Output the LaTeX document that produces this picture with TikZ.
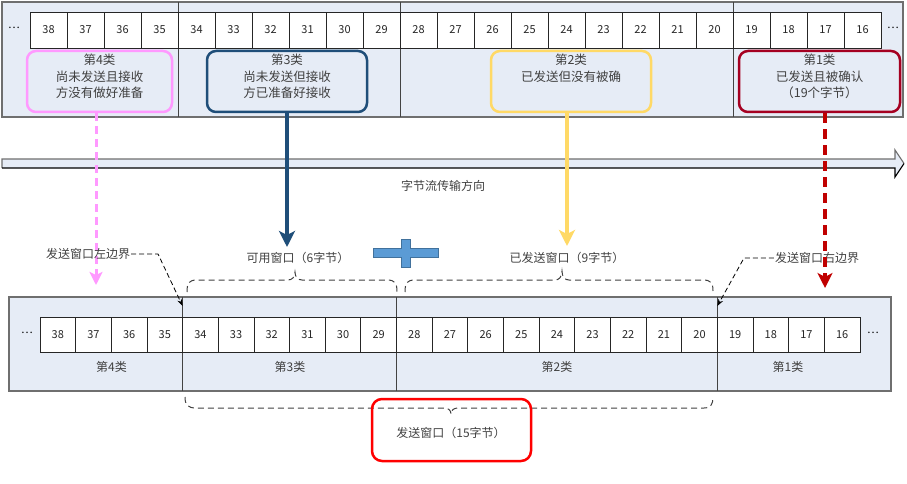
\documentclass[tikz,border=0pt]{standalone}
\usepackage{fontspec}
\setmainfont{Noto Sans CJK SC}
\usetikzlibrary{arrows.meta}
\definecolor{bandfill}{HTML}{E6ECF6}
\definecolor{bandline}{HTML}{6F6F6F}
\definecolor{txtgray}{HTML}{404040}
\definecolor{cpink}{HTML}{FF99FF}
\definecolor{cdblue}{HTML}{1F4E79}
\definecolor{cyellow}{HTML}{FFD966}
\definecolor{ccrimson}{HTML}{A50021}
\definecolor{cdred}{HTML}{C00000}
\definecolor{cred}{HTML}{FF0000}
\definecolor{plusfill}{HTML}{5B9BD5}
\definecolor{plusline}{HTML}{41719C}
\begin{document}
\begin{tikzpicture}[x=1pt,y=-1pt,
  band/.style={draw=bandline,fill=bandfill,line width=1.1pt},
  divider/.style={draw=bandline!60!black,line width=1pt},
  cellt/.style={draw=black!85,fill=white,line width=0.8pt,minimum width=37pt,minimum height=36pt,inner sep=0pt,font=\fontsize{11}{13}\selectfont,text=black!85},
  cellb/.style={draw=black!85,fill=white,line width=0.8pt,minimum width=35.65pt,minimum height=35pt,inner sep=0pt,font=\fontsize{11}{13}\selectfont,text=black!85},
  catbox/.style={rounded corners=9pt,line width=2.5pt,minimum height=61pt,inner sep=0pt},
  cattext/.style={anchor=north,align=center,font=\fontsize{12.5}{16.5}\selectfont,text=txtgray,inner sep=4pt},
  lbl/.style={font=\fontsize{12}{14}\selectfont,text=txtgray,inner sep=1pt},
  dots/.style={font=\fontsize{11}{13}\selectfont,text=black,inner sep=0pt},
  bnd/.style={draw=black,line width=0.8pt,dash pattern=on 5pt off 3pt,-{Stealth[length=7pt,width=5pt]}},
  brace/.style={draw=txtgray,line width=1pt,dash pattern=on 6pt off 4pt},
  bighead/.style={-{Stealth[length=16pt,width=16pt,inset=4pt]}},
]
\useasboundingbox (0,0) rectangle (907,484);

% ---------- top band ----------
\draw[band] (2,2) rectangle (903,117);
\foreach \xx in {178,400,733} \draw[divider] (\xx,2) -- (\xx,117);
\foreach \n [count=\i from 0] in {38,37,...,16} {
  \node[cellt] (t\n) at ({30+37*\i+18.5},30) {\n};
}
\node[dots] (tdl) at (14,28) {…};
\node[dots] (tdr) at (893,28) {…};

\node[catbox,draw=cpink,minimum width=145pt] (c4) at (99.5,81.5) {};
\node[cattext] (c4t) at (c4.north) {第4类\\尚未发送且接收\\方没有做好准备};
\node[catbox,draw=cdblue,minimum width=160pt] (c3) at (287,81.5) {};
\node[cattext] (c3t) at (c3.north) {第3类\\尚未发送但接收\\方已准备好接收};
\node[catbox,draw=cyellow,minimum width=160pt] (c2) at (571,81.5) {};
\node[cattext] (c2t) at (c2.north) {第2类\\已发送但没有被确};
\node[catbox,draw=ccrimson,minimum width=161pt] (c1) at (819.5,81.5) {};
\node[cattext] (c1t) at (c1.north) {第1类\\已发送且被确认\\（19个字节）};

% ---------- big direction arrow ----------
\fill[bandfill]
  (2,159) -- (895,159) -- (895,150) -- (904,163.5) -- (895,177) -- (895,168) -- (2,168) -- cycle;
\draw[draw=bandline,line width=1.1pt,line join=miter]
  (2,168) -- (2,159) -- (895,159) -- (895,150) -- (904,163.5);
\draw[draw=black,line width=1.1pt,line join=miter]
  (904,163.5) -- (895,177) -- (895,168) -- (2,168);
\node[lbl] (dir) at (443,186) {字节流传输方向};

% ---------- arrows from categories ----------
\coordinate (a4) at (96,285);
\coordinate (a3) at (287,247);
\coordinate (a2) at (567,246);
\coordinate (a1) at (825,288);
\draw[draw=cpink,line width=3pt,dash pattern=on 8pt off 5pt,-{Stealth[length=13pt,width=13pt,inset=3pt]}] (c4.south -| a4) -- (a4);
\draw[draw=cdblue,line width=3.5pt,bighead] (c3.south) -- (a3);
\draw[draw=cyellow,line width=3.5pt,bighead] (c2.south -| a2) -- (a2);

% ---------- plus sign ----------
\draw[fill=plusfill,draw=plusline,line width=0.6pt]
  (373,248) -- (401,248) -- (401,239) -- (410,239) -- (410,248) -- (438,248) -- (438,257)
  -- (410,257) -- (410,267) -- (401,267) -- (401,257) -- (373,257) -- cycle;

% ---------- window labels ----------
\node[lbl] (lleft) at (88,254) {发送窗口左边界};
\node[lbl] (lavail) at (298,258) {可用窗口（6字节）};
\node[lbl] (lsent) at (567,258) {已发送窗口（9字节）};
\node[lbl] (lright) at (817,258) {发送窗口右边界};

\draw[draw=cdred,line width=3.5pt,dash pattern=on 10pt off 6pt,-{Stealth[length=15pt,width=15pt,inset=4pt]}] (c1.south -| a1) -- (a1);

% braces above lower band
\draw[brace] (187,292) .. controls (187,283) and (189,280) .. (197,280) -- (288,280)
  .. controls (292,280) and (295,277) .. (295,272) .. controls (295,277) and (298,280) .. (302,280)
  -- (387,280) .. controls (395,280) and (397,283) .. (397,292);
\draw[brace] (405,292) .. controls (405,283) and (407,280) .. (415,280) -- (555,280)
  .. controls (559,280) and (562,277) .. (562,271) .. controls (562,277) and (565,280) .. (569,280)
  -- (703,280) .. controls (711,280) and (713,283) .. (713,291);

% ---------- lower band ----------
\draw[band] (9,297) rectangle (891,391);
\foreach \xx in {182.6,396.5,717.35} \draw[divider] (\xx,297) -- (\xx,391);
\foreach \n [count=\i from 0] in {38,37,...,16} {
  \node[cellb] (b\n) at ({40+35.65*\i+17.825},334.5) {\n};
}
\node[dots] (bdl) at (27,333) {…};
\node[dots] (bdr) at (873,333) {…};
\node[lbl] (k4) at (111.5,367) {第4类};
\node[lbl] (k3) at (290,367) {第3类};
\node[lbl] (k2) at (557,367) {第2类};
\node[lbl] (k1) at (788,367) {第1类};

% boundary connectors
\coordinate (lb1) at (158,254);
\coordinate (lbt) at (182.6,306);
\coordinate (rb1) at (744,258);
\coordinate (rbt) at (717.35,306);
\draw[bnd] (lleft.east) -- (lb1) -- (lbt);
\draw[bnd] (lright.west) -- (rb1) -- (rbt);

% lower brace and send window box
\draw[brace] (185,397) .. controls (185,405) and (188,408) .. (196,408) -- (444,408)
  .. controls (448,408) and (451,410) .. (451,414) .. controls (451,410) and (454,408) .. (458,408)
  -- (704,408) .. controls (711,408) and (713,404) .. (713,397);
\node[draw=cred,line width=2.5pt,rounded corners=10pt,minimum width=159pt,minimum height=62pt,inner sep=0pt] (win) at (451.5,430) {};
\node[lbl] (wint) at (451,433) {发送窗口（15字节）};
\end{tikzpicture}
\end{document}
